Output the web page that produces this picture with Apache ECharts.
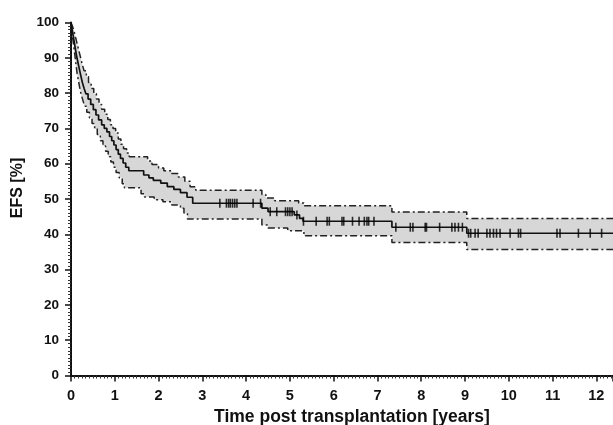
<!DOCTYPE html>
<html>
<head>
<meta charset="utf-8">
<script src="https://cdn.jsdelivr.net/npm/echarts@6.0.0/dist/echarts.min.js"></script>
<style>
  html, body { margin: 0; padding: 0; background: #fff; }
  #chart { width: 613px; height: 425px; }
</style>
</head>
<body>
<div id="chart"></div>
<script>
// EFS Kaplan-Meier estimate, [years, %]
var efsPoints = [
  [0, 100], [0.02, 98.5], [0.04, 97], [0.06, 95.5], [0.08, 94], [0.1, 92.5], [0.12, 91],
  [0.14, 89.8], [0.17, 88], [0.2, 86.3], [0.23, 84.6], [0.26, 83], [0.3, 81.3], [0.34, 79.8],
  [0.39, 78.3], [0.45, 76.8], [0.51, 75.3], [0.57, 73.8], [0.63, 72.4], [0.7, 71], [0.76, 70],
  [0.82, 69], [0.88, 67.7], [0.93, 66.5], [0.98, 65.3], [1.03, 64], [1.08, 62.7], [1.13, 61.5],
  [1.19, 60.2], [1.25, 59], [1.32, 58], [1.66, 56.8], [1.78, 56], [1.88, 55.3], [2.05, 54.5],
  [2.2, 53.5], [2.35, 52.7], [2.5, 51.8], [2.65, 50.5], [2.78, 48.8], [4.36, 47.4], [4.5, 46.4],
  [5.1, 45.5], [5.22, 44.5], [5.3, 43.7], [7.33, 42.0], [9.04, 40.3], [12.38, 40.3]
];
// upper / lower confidence limits
var upperCI = [
  [0, 100], [0.03, 99], [0.06, 98], [0.09, 96.5], [0.12, 95], [0.15, 93.5], [0.18, 92],
  [0.22, 90], [0.26, 88], [0.3, 86.3], [0.35, 84.6], [0.4, 83], [0.46, 81.3], [0.52, 79.8],
  [0.58, 78.3], [0.64, 76.8], [0.7, 75.4], [0.77, 74], [0.84, 72.5], [0.9, 71], [0.96, 70],
  [1.02, 68.7], [1.08, 67], [1.14, 65.5], [1.2, 64.2], [1.27, 63], [1.33, 62], [1.75, 60.8],
  [1.85, 59.8], [2.0, 58.8], [2.12, 58], [2.3, 57.2], [2.45, 56.2], [2.6, 55], [2.72, 53.5],
  [2.85, 52.5], [4.36, 51.3], [4.45, 50.3], [4.65, 49.5], [5.2, 48.9], [5.32, 48.1],
  [7.33, 46.3], [9.04, 44.5], [12.38, 44.5]
];
var lowerCI = [
  [0, 100], [0.02, 97.5], [0.04, 95.5], [0.06, 93.5], [0.08, 91.5], [0.1, 89.5], [0.12, 87.5],
  [0.14, 85.5], [0.17, 83.5], [0.2, 81.5], [0.23, 79.7], [0.27, 78], [0.31, 76.3], [0.36, 74.6],
  [0.42, 73], [0.48, 71.4], [0.54, 69.8], [0.6, 68.3], [0.67, 66.5], [0.73, 65], [0.79, 63.5],
  [0.85, 62], [0.91, 60.5], [0.97, 59], [1.03, 57.5], [1.1, 56], [1.17, 54.3], [1.22, 53.2],
  [1.6, 51.5], [1.68, 50.6], [1.9, 49.8], [2.1, 49.2], [2.3, 48.3], [2.5, 47.4], [2.58, 46],
  [2.66, 44.3], [4.36, 42.6], [4.5, 41.8], [4.95, 41], [5.32, 39.6], [7.33, 37.7],
  [9.04, 35.7], [12.38, 35.7]
];
// censored observations (years)
var censorTimes = [
  3.4, 3.55, 3.6, 3.64, 3.69, 3.74, 3.79, 4.16, 4.33,
  4.55, 4.7, 4.9, 4.95, 5.0, 5.05, 5.16,
  5.31, 5.6, 5.85, 5.9, 6.19, 6.23, 6.43, 6.58, 6.7, 6.76, 6.8, 6.92,
  7.42, 7.75, 7.81, 8.09, 8.12, 8.42, 8.7, 8.77, 8.85, 8.94,
  9.08, 9.13, 9.23, 9.3, 9.5, 9.57, 9.65, 9.72, 9.8, 10.03, 10.22, 10.27,
  11.1, 11.17, 11.59, 11.86, 12.12
];
var xMax = 12.38;

(function () {
  var myChart = echarts.init(document.getElementById('chart'));

  // value of the step curve at time t
  function efsAt(t) {
    var v = efsPoints[0][1];
    for (var i = 0; i < efsPoints.length; i++) {
      if (efsPoints[i][0] <= t) v = efsPoints[i][1];
    }
    return v;
  }
  var censorData = censorTimes.map(function (t) { return [t, efsAt(t)]; });

  var dashDot = [7, 3, 2, 3];
  var bold = { fontFamily: 'Liberation Sans', fontWeight: 'bold', color: '#111' };

  var option = {
    animation: false,
    backgroundColor: '#fff',
    grid: { left: 71, right: 0, top: 22.5, bottom: 49.5, outerBoundsMode: 'none' },
    xAxis: {
      type: 'value',
      min: 0,
      max: xMax,
      interval: 1,
      z: 10,
      name: 'Time post transplantation [years]',
      nameLocation: 'middle',
      nameGap: 27,
      nameTextStyle: Object.assign({ fontSize: 17.5, padding: [0, 0, 0, 20] }, bold),
      axisLine: { lineStyle: { color: '#111', width: 2 } },
      axisTick: { length: 6, lineStyle: { color: '#111', width: 1.5 } },
      minorTick: { show: true, splitNumber: 12, length: 3, lineStyle: { color: '#333', width: 1 } },
      axisLabel: Object.assign({ fontSize: 14.5, margin: 13, showMaxLabel: false }, bold),
      splitLine: { show: false }
    },
    yAxis: {
      type: 'value',
      min: 0,
      max: 100,
      interval: 10,
      z: 10,
      name: 'EFS [%]',
      nameLocation: 'middle',
      nameRotate: 90,
      nameGap: 45,
      nameTextStyle: Object.assign({ fontSize: 16, padding: [0, 0, 0, 22] }, bold),
      axisLine: { show: true, lineStyle: { color: '#111', width: 2 } },
      axisTick: { show: true, length: 6, lineStyle: { color: '#111', width: 1.5 } },
      minorTick: { show: true, splitNumber: 10, length: 3, lineStyle: { color: '#333', width: 1 } },
      axisLabel: Object.assign({ fontSize: 13.5, margin: 12 }, bold),
      splitLine: { show: false }
    },
    series: [
      {
        // upper limit, grey band filled down
        type: 'line',
        step: 'end',
        data: upperCI,
        symbol: 'none',
        z: 1,
        lineStyle: { color: '#222', width: 1.5, type: dashDot },
        areaStyle: { color: '#d7d7d7', opacity: 1 }
      },
      {
        // lower limit, white fill cuts the band
        type: 'line',
        step: 'end',
        data: lowerCI,
        symbol: 'none',
        z: 2,
        lineStyle: { color: '#222', width: 1.5, type: dashDot },
        areaStyle: { color: '#ffffff', opacity: 1 }
      },
      {
        type: 'line',
        step: 'end',
        data: efsPoints,
        symbol: 'none',
        z: 3,
        lineStyle: { color: '#111', width: 1.7 }
      },
      {
        type: 'scatter',
        data: censorData,
        symbol: 'rect',
        symbolSize: [1.6, 9],
        z: 4,
        itemStyle: { color: '#000' }
      }
    ]
  };
  myChart.setOption(option);
  window.addEventListener('resize', function () {
    myChart.resize();
  });
})();
</script>
</body>
</html>
